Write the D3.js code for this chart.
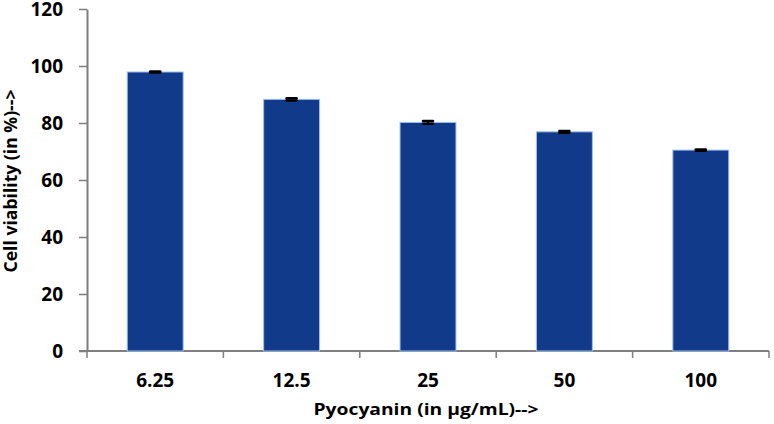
<!DOCTYPE html>
<meta charset="UTF-8">

<head>
    <title>Cell viability</title>
</head>
<style>
    body {
        margin: 0;
        background: #fff;
    }

    text {
        font-family: "Open Sans", sans-serif;
        font-weight: bold;
        fill: #000;
    }
</style>

<body>
    <div id="chart"></div>

    <script src="https://d3js.org/d3.v7.min.js"></script>
    <script type="text/javascript">

        // 数据
        var categories = ["6.25", "12.5", "25", "50", "100"];
        var viability = [97.9, 88.3, 80.2, 76.9, 70.5];
        var errors = [0.2, 0.4, 0.5, 0.3, 0.2];
        var yTicks = [0, 20, 40, 60, 80, 100, 120];

        var w = 774;
        var h = 424;
        var margin = { left: 87, right: 5, top: 9, bottom: 73 };

        var svg = d3.select("#chart")
            .append("svg")
            .attr("width", w)
            .attr("height", h);

        var x = d3.scaleBand()
            .domain(categories)
            .range([margin.left, w - margin.right])
            .paddingInner(0.59)
            .paddingOuter(0.295);

        var y = d3.scaleLinear()
            .domain([0, 120])
            .range([h - margin.bottom, margin.top]);

        var data = categories.map(function (c, i) {
            return { cat: c, v: viability[i], e: errors[i] };
        });

        // y axis
        var yAxis = svg.append("g")
            .attr("transform", "translate(" + margin.left + ",0)")
            .call(d3.axisLeft(y).tickValues(yTicks).tickSize(8).tickPadding(16).tickSizeOuter(0));
        yAxis.select(".domain").attr("stroke", "#7f7f7f").attr("stroke-width", 2);
        yAxis.selectAll(".tick line").attr("stroke", "#7f7f7f").attr("stroke-width", 1.5);
        yAxis.selectAll(".tick text").style("font-size", "19px").attr("dy", "0.36em");

        // x axis, ticks between categories
        var xg = svg.append("g")
            .attr("transform", "translate(0," + y(0) + ")");
        xg.append("line")
            .attr("x1", margin.left - 8)
            .attr("x2", w - margin.right)
            .attr("stroke", "#7f7f7f")
            .attr("stroke-width", 2);
        var step = x.step();
        var bounds = categories.map(function (c) { return x(c) - (step - x.bandwidth()) / 2; });
        bounds.push(w - margin.right);
        xg.selectAll(".xtick")
            .data(bounds)
            .enter()
            .append("line")
            .attr("x1", function (d) { return d; })
            .attr("x2", function (d) { return d; })
            .attr("y1", 0)
            .attr("y2", 7)
            .attr("stroke", "#7f7f7f")
            .attr("stroke-width", 1.5);
        xg.selectAll(".xlab")
            .data(categories)
            .enter()
            .append("text")
            .attr("x", function (d) { return x(d) + x.bandwidth() / 2; })
            .attr("y", 36)
            .attr("text-anchor", "middle")
            .style("font-size", "19px")
            .text(function (d) { return d; });

        // bars
        svg.selectAll("rect.bar")
            .data(data)
            .enter()
            .append("rect")
            .attr("class", "bar")
            .attr("x", function (d) { return x(d.cat); })
            .attr("y", function (d) { return y(d.v); })
            .attr("width", x.bandwidth())
            .attr("height", function (d) { return y(0) - y(d.v); })
            .attr("fill", "#123a8b")
            .attr("stroke", "#9ec1ee")
            .attr("stroke-width", 1);

        // error bars
        var eb = svg.selectAll("g.err")
            .data(data)
            .enter()
            .append("g")
            .attr("class", "err");
        eb.append("line")
            .attr("x1", function (d) { return x(d.cat) + x.bandwidth() / 2; })
            .attr("x2", function (d) { return x(d.cat) + x.bandwidth() / 2; })
            .attr("y1", function (d) { return y(d.v + d.e); })
            .attr("y2", function (d) { return y(d.v - d.e); })
            .attr("stroke", "#000")
            .attr("stroke-width", 1.5);
        [1, -1].forEach(function (s) {
            eb.append("line")
                .attr("x1", function (d) { return x(d.cat) + x.bandwidth() / 2 - 5; })
                .attr("x2", function (d) { return x(d.cat) + x.bandwidth() / 2 + 5; })
                .attr("y1", function (d) { return y(d.v + s * d.e); })
                .attr("y2", function (d) { return y(d.v + s * d.e); })
                .attr("stroke", "#000")
                .attr("stroke-width", 2.5)
                .attr("stroke-linecap", "round");
        });

        // axis titles
        svg.append("text")
            .attr("transform", "translate(17,181) rotate(-90)")
            .attr("text-anchor", "middle")
            .attr("textLength", 183)
            .attr("lengthAdjust", "spacingAndGlyphs")
            .style("font-size", "17px")
            .text("Cell viability (in %)-->");

        svg.append("text")
            .attr("x", 426)
            .attr("y", 415)
            .attr("text-anchor", "middle")
            .attr("textLength", 225)
            .attr("lengthAdjust", "spacingAndGlyphs")
            .style("font-size", "16px")
            .text("Pyocyanin (in µg/mL)-->");

    </script>
</body>

</html>
